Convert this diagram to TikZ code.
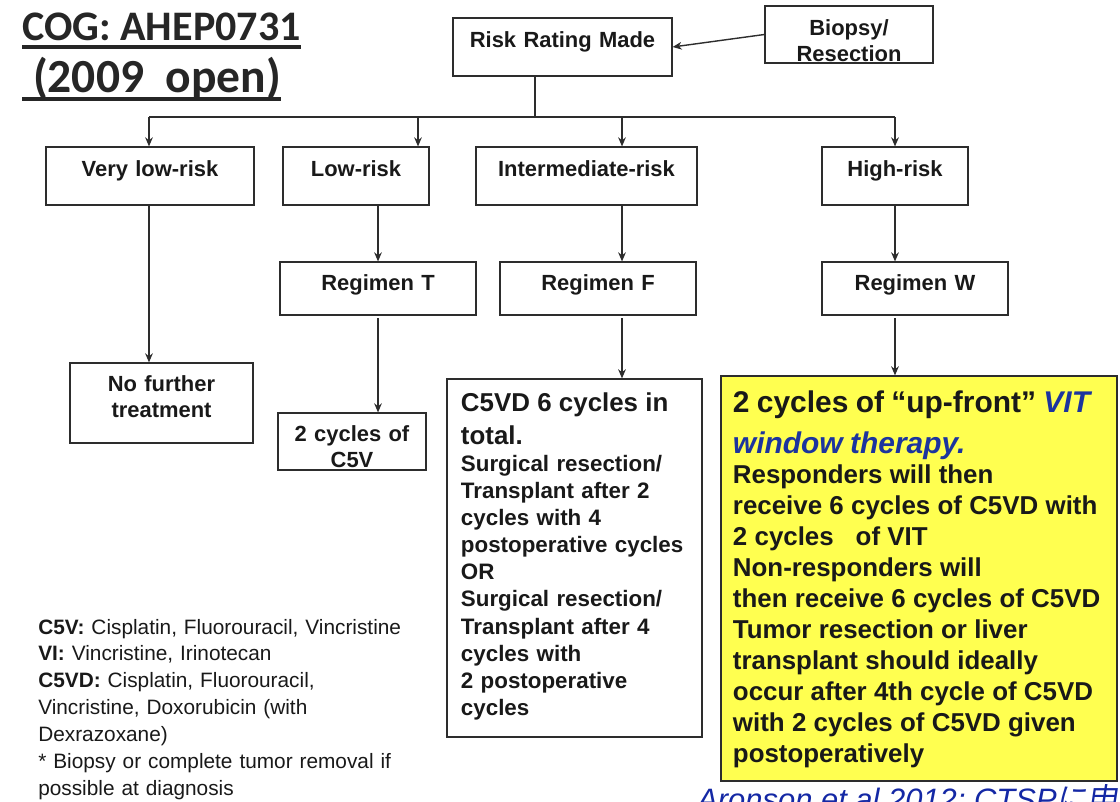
\documentclass[tikz,border=0pt]{standalone}
\usepackage{xcolor}
\usepackage{tikz}
\usetikzlibrary{shapes,arrows,arrows.meta,positioning,calc}
\usepackage{fontspec}
\setmainfont{Liberation Sans}
\newfontfamily\titlefont{Carlito}
\newfontfamily\cjkfont[FakeSlant=0.15]{Noto Sans CJK JP}
\definecolor{boxline}{RGB}{45, 45, 45}
\definecolor{textdark}{RGB}{25, 25, 25}
\definecolor{windowyellow}{RGB}{255, 255, 80}
\definecolor{vitblue}{RGB}{28, 52, 158}
\definecolor{refblue}{RGB}{20, 40, 165}

\begin{document}
\begin{tikzpicture}[
    x=0.025cm, y=-0.025cm,
    box/.style={rectangle, draw=boxline, line width=0.8pt, inner sep=0pt, align=center, text=textdark, font=\fontsize{15.6}{18.5}\selectfont\bfseries},
    riskbox/.style={box, text width=#1, text height=0.725cm, text depth=0.725cm},
    regbox/.style={box, text width=#1, text height=0.7cm, text depth=0.625cm},
    titletext/.style={inner sep=0pt, anchor=base west, text=black!85, font=\titlefont\bfseries},
    underbar/.style={line width=2.2pt, black!85},
    arrow/.style={->, >={Stealth[length=6.5pt, width=5.5pt]}, line width=1pt, boxline},
    line/.style={line width=1pt, boxline}
]
\useasboundingbox (0,0) rectangle (1120,802);

\node[titletext, font=\titlefont\bfseries\fontsize{29.9}{34}\selectfont] (title) at (22,40) {COG: AHEP0731\hspace{16pt}};
\node[titletext, font=\titlefont\bfseries\fontsize{33.8}{38}\selectfont] (year) at (22,92) {~(2009~~open)};
\draw[underbar] ($(title.base west)+(0,7)$) -- ($(title.base east)+(0,7)$);
\draw[underbar] ($(year.base west)+(0,7)$) -- ($(year.base east)+(0,7)$);

\node[riskbox=5.475cm] (risk) at (562.5,47) {Risk Rating Made};
\node[box, text width=4.2cm, text height=0.725cm, text depth=0.7cm] (biopsy) at (849,34.5) {Biopsy/\\Resection};

\node[riskbox=5.2cm] (verylow) at (150,176) {Very low-risk};
\node[riskbox=3.65cm] (low) at (356,176) {Low-risk};
\node[riskbox=5.525cm] (inter) at (586.5,176) {Intermediate-risk};
\node[riskbox=3.65cm] (high) at (895,176) {High-risk};

\node[regbox=4.9cm] (regT) at (378,288.5) {Regimen T};
\node[regbox=4.9cm] (regF) at (598,288.5) {Regimen F};
\node[regbox=4.65cm] (regW) at (915,288.5) {Regimen W};

\node[box, text width=4.575cm, text height=0.7cm, text depth=1.3cm] (nofurther) at (161.5,403) {No further\\treatment};
\node[box, text width=3.7cm, text height=0.7cm, text depth=0.725cm] (cfivev) at (352,441.5) {2 cycles of\\C5V};

\node[box, align=left, inner xsep=0.35cm, text width=5.675cm, text height=0.825cm, text depth=8.125cm] (cfivevd) at (574.5,558)
  {{\fontsize{18.4}{22.8}\selectfont C5VD 6 cycles in\\total.\par}
   {\fontsize{15.9}{19.3}\selectfont Surgical resection/\\Transplant after 2\\cycles with 4\\postoperative cycles\\OR\\Surgical resection/\\Transplant after 4\\cycles with\\2 postoperative\\cycles\par}};

\node[box, fill=windowyellow, align=left, inner xsep=0.3cm, text width=9.3cm, text height=0.925cm, text depth=9.2cm] (window) at (919,578.5)
  {{\fontsize{21.3}{28.5}\selectfont 2 cycles of “up-front” \textcolor{vitblue}{\itshape VIT}\\\textcolor{vitblue}{\itshape window therapy.}\par}
   {\fontsize{18.4}{22}\selectfont Responders will then\\receive 6 cycles of C5VD with\\2 cycles \ \ of VIT\\Non-responders will\\then receive 6 cycles of C5VD\\Tumor resection or liver\\transplant should ideally\\occur after 4th cycle of C5VD\\with 2 cycles of C5VD given\\postoperatively\par}};

\node[inner sep=0pt, anchor=base west, text width=11cm, align=left, text=textdark, font=\fontsize{14.8}{19.1}\selectfont] (key) at (38,634)
  {\textbf{C5V:} Cisplatin, Fluorouracil, Vincristine\\\textbf{VI:} Vincristine, Irinotecan\\\textbf{C5VD:} Cisplatin, Fluorouracil,\\Vincristine, Doxorubicin (with\\Dexrazoxane)\\{*} Biopsy or complete tumor removal if\\possible at diagnosis\par};

\node[inner sep=0pt, anchor=base west, text=refblue, font=\fontsize{22}{26}\selectfont\itshape] (source) at (697,810) {Aronson et al 2012; CTSP{\cjkfont に申請中}};

% Bus from risk rating to the four groups
\coordinate (bus) at (535,117);
\coordinate (bus1) at (149,117);
\coordinate (bus2) at (418,117);
\coordinate (bus3) at (622,117);
\coordinate (bus4) at (895,117);

\draw[arrow] (biopsy.west) -- (risk.east);
\draw[line] (risk.south -| bus) -- (bus);
\draw[line] (bus1) -- (bus4);
\foreach \b/\n in {bus1/verylow, bus2/low, bus3/inter, bus4/high}
  \draw[arrow] (\b) -- (\b |- \n.north);

% Vertical arrows down each branch
\draw[arrow] (bus1 |- verylow.south) -- (bus1 |- nofurther.north);
\draw[arrow] (regT.north |- low.south) -- (regT.north);
\draw[arrow] (bus3 |- inter.south) -- (bus3 |- regF.north);
\draw[arrow] (bus4 |- high.south) -- (bus4 |- regW.north);
\draw[arrow, shorten <=2pt] (regT.south) -- (regT.south |- cfivev.north);
\draw[arrow, shorten <=2pt] (bus3 |- regF.south) -- (bus3 |- cfivevd.north);
\draw[arrow, shorten <=2pt] (bus4 |- regW.south) -- (bus4 |- window.north);

\end{tikzpicture}
\end{document}
